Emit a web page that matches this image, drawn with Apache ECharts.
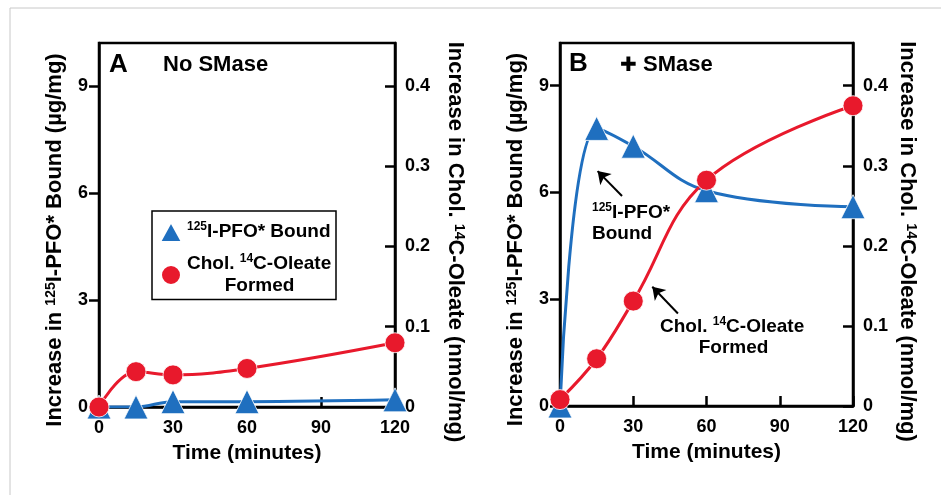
<!DOCTYPE html>
<html>
<head>
<meta charset="utf-8">
<script src="https://cdn.jsdelivr.net/npm/echarts@6/dist/echarts.min.js"></script>
<style>
  html, body { margin: 0; padding: 0; background: #fff; }
  #chart { width: 941px; height: 495px; }
</style>
</head>
<body>
<div id="chart"></div>
<script>
// data
const times = [0, 15, 30, 60, 120];
// panel A, no SMase
const pfoA = [0, 0, 0.15, 0.15, 0.2];          // µg/mg (left axis)
const oleateA = [0, 0.044, 0.040, 0.048, 0.080]; // nmol/mg (right axis)
// panel B, + SMase
const pfoB = [0, 7.8, 7.3, 6.05, 5.6];
const oleateB = [0.008, 0.059, 0.131, 0.282, 0.375];

const xTicks = [0, 30, 60, 90, 120];
const leftTicks = [0, 3, 6, 9];
const rightTicks = [0, 0.1, 0.2, 0.3, 0.4];

const BLUE = '#1f6fbf';
const RED = '#e8192c';
const FONT = 'Liberation Sans';

const leftMax = 10.2;
const rightMax = leftMax * 0.4 / 9;

function pairs(xs, ys) {
    return xs.map(function (x, i) { return [x, ys[i]]; });
}

let myChart = echarts.init(document.getElementById('chart'));

const labelStyle = { color: '#000', fontFamily: FONT, fontWeight: 'bold', fontSize: 18 };
const nameRich = {
    b: { fontFamily: FONT, fontWeight: 'bold', fontSize: 22, color: '#000' },
    s: { fontFamily: FONT, fontWeight: 'bold', fontSize: 14, color: '#000', verticalAlign: 'top', padding: [0, 0, 8, 0] }
};

function xAxis(idx) {
    return {
        type: 'value', gridIndex: idx, min: 0, max: 120, interval: 30,
        name: 'Time (minutes)', nameLocation: 'middle', nameGap: 36,
        nameTextStyle: { fontFamily: FONT, fontWeight: 'bold', fontSize: 21, color: '#000' },
        axisLine: { lineStyle: { color: '#000', width: 2.5 } },
        axisTick: { inside: true, length: 10, lineStyle: { color: '#000', width: 2.5 } },
        axisLabel: Object.assign({ margin: 12, formatter: function (v) { return xTicks.includes(v) ? v : ''; } }, labelStyle),
        splitLine: { show: false }
    };
}

function leftAxis(idx) {
    return {
        type: 'value', gridIndex: idx, min: 0, max: leftMax, interval: 3, position: 'left',
        name: '{b|Increase in }{s|125}{b|I-PFO* Bound (µg/mg)}',
        nameLocation: 'middle', nameGap: 33,
        // shift the name a little below the axis middle, as in the figure
        nameTextStyle: { rich: nameRich, padding: [0, 30, 0, 0] },
        axisLine: { show: true, lineStyle: { color: '#000', width: 2.5 } },
        axisTick: { show: true, inside: false, length: 10, lineStyle: { color: '#000', width: 2.5 } },
        axisLabel: Object.assign({ margin: 11, showMaxLabel: false,
            formatter: function (v) { return leftTicks.includes(v) ? v : ''; } }, labelStyle),
        splitLine: { show: false }
    };
}

function rightAxis(idx, gap) {
    return {
        type: 'value', gridIndex: idx, min: 0, max: rightMax, interval: 0.1, position: 'right',
        name: '{b|Increase in Chol. }{s|14}{b|C-Oleate (nmol/mg)}',
        nameLocation: 'middle', nameGap: gap, nameRotate: -90,
        nameTextStyle: { rich: nameRich, padding: [0, 0, 0, 34] },
        axisLine: { show: true, lineStyle: { color: '#000', width: 2.5 } },
        axisTick: { show: true, inside: true, length: 10, lineStyle: { color: '#000', width: 2.5 } },
        axisLabel: Object.assign({ margin: 10, showMaxLabel: false,
            formatter: function (v) {
                let r = Math.round(v * 10) / 10;
                return rightTicks.includes(r) && Math.abs(r - v) < 1e-6 ? String(r) : '';
            } }, labelStyle),
        splitLine: { show: false }
    };
}

function pfoSeries(name, data, xi, yi) {
    return {
        name: name, type: 'line', xAxisIndex: xi, yAxisIndex: yi,
        data: pairs(times, data), smooth: 0.4,
        symbol: 'triangle', symbolSize: 24,
        lineStyle: { color: BLUE, width: 3 },
        itemStyle: { color: BLUE, borderColor: '#fff', borderWidth: 0.8 },
        z: 3
    };
}

function oleateSeries(name, data, xi, yi) {
    return {
        name: name, type: 'line', xAxisIndex: xi, yAxisIndex: yi,
        data: pairs(times, data), smooth: 0.4,
        symbol: 'circle', symbolSize: 20,
        lineStyle: { color: RED, width: 3 },
        itemStyle: { color: RED, borderColor: '#fff', borderWidth: 0.8 },
        z: 4
    };
}

const annRich = {
    b: { fontFamily: FONT, fontWeight: 'bold', fontSize: 19, fill: '#000', lineHeight: 21 },
    s: { fontFamily: FONT, fontWeight: 'bold', fontSize: 12, fill: '#000', verticalAlign: 'top', lineHeight: 21 },
    f: { fontFamily: FONT, fontWeight: 'bold', fontSize: 19, fill: '#000', lineHeight: 21, width: 147, align: 'center' }
};

let option = {
    animation: false,
    backgroundColor: '#fff',
    grid: [
        { left: 99, top: 43, width: 296, height: 364, show: true, borderColor: '#000', borderWidth: 2.5, backgroundColor: 'transparent' },
        { left: 560, top: 43, width: 293, height: 363, show: true, borderColor: '#000', borderWidth: 2.5, backgroundColor: 'transparent' }
    ],
    xAxis: [xAxis(0), xAxis(1)],
    yAxis: [leftAxis(0), rightAxis(0, 49), leftAxis(1), rightAxis(1, 43)],
    legend: {
        left: 152, top: 211, orient: 'vertical',
        borderColor: '#000', borderWidth: 1.5, padding: [10, 4, 4, 7],
        itemWidth: 22, itemHeight: 20, itemGap: 10,
        data: [
            { name: 'pfoA', icon: 'triangle' },
            { name: 'oleateA', icon: 'circle' }
        ],
        formatter: function (n) {
            if (n === 'pfoA') return '{s|125}{b|I-PFO* Bound}';
            return '{b|Chol. }{s|14}{b|C-Oleate}\n{f|Formed}';
        },
        textStyle: {
            rich: {
                b: { fontFamily: FONT, fontWeight: 'bold', fontSize: 19, color: '#000', lineHeight: 22 },
                s: { fontFamily: FONT, fontWeight: 'bold', fontSize: 12, color: '#000', verticalAlign: 'top', lineHeight: 22 },
                f: { fontFamily: FONT, fontWeight: 'bold', fontSize: 19, color: '#000', lineHeight: 22, width: 145, align: 'center' }
            }
        }
    },
    series: [
        pfoSeries('pfoA', pfoA, 0, 0),
        oleateSeries('oleateA', oleateA, 0, 1),
        Object.assign(pfoSeries('pfoB', pfoB, 1, 2), {
            markLine: {
                silent: true, symbol: ['none', 'arrow'], symbolSize: 12,
                lineStyle: { color: '#000', width: 2, type: 'solid' },
                label: { show: false },
                data: [
                    [{ coord: [25.4, 5.9] }, { coord: [15.4, 6.6] }],
                    [{ coord: [48.3, 2.6] }, { coord: [37.8, 3.35] }]
                ]
            }
        }),
        oleateSeries('oleateB', oleateB, 1, 3)
    ],
    graphic: [
        { type: 'rect', shape: { x: 10, y: 8, width: 960, height: 520 }, style: { fill: 'none', stroke: '#c8c8c8', lineWidth: 1 }, silent: true },
        { type: 'text', left: 109, top: 52, style: { text: 'A', font: 'bold 26px "Liberation Sans"', fill: '#000' } },
        { type: 'text', left: 163, top: 54, style: { text: 'No SMase', font: 'bold 22px "Liberation Sans"', fill: '#000' } },
        { type: 'text', left: 569, top: 51, style: { text: 'B', font: 'bold 26px "Liberation Sans"', fill: '#000' } },
        { type: 'text', left: 620, top: 56, style: { text: '✚', font: '20px "DejaVu Sans"', fill: '#000' } },
        { type: 'text', left: 643, top: 54, style: { text: 'SMase', font: 'bold 22px "Liberation Sans"', fill: '#000' } },
        { type: 'text', left: 592, top: 202, style: { text: '{s|125}{b|I-PFO*}\n{b|Bound}', rich: annRich } },
        { type: 'text', left: 660, top: 316, style: { text: '{b|Chol. }{s|14}{b|C-Oleate}\n{f|Formed}', rich: annRich } }
    ]
};

myChart.setOption(option);
</script>
</body>
</html>
